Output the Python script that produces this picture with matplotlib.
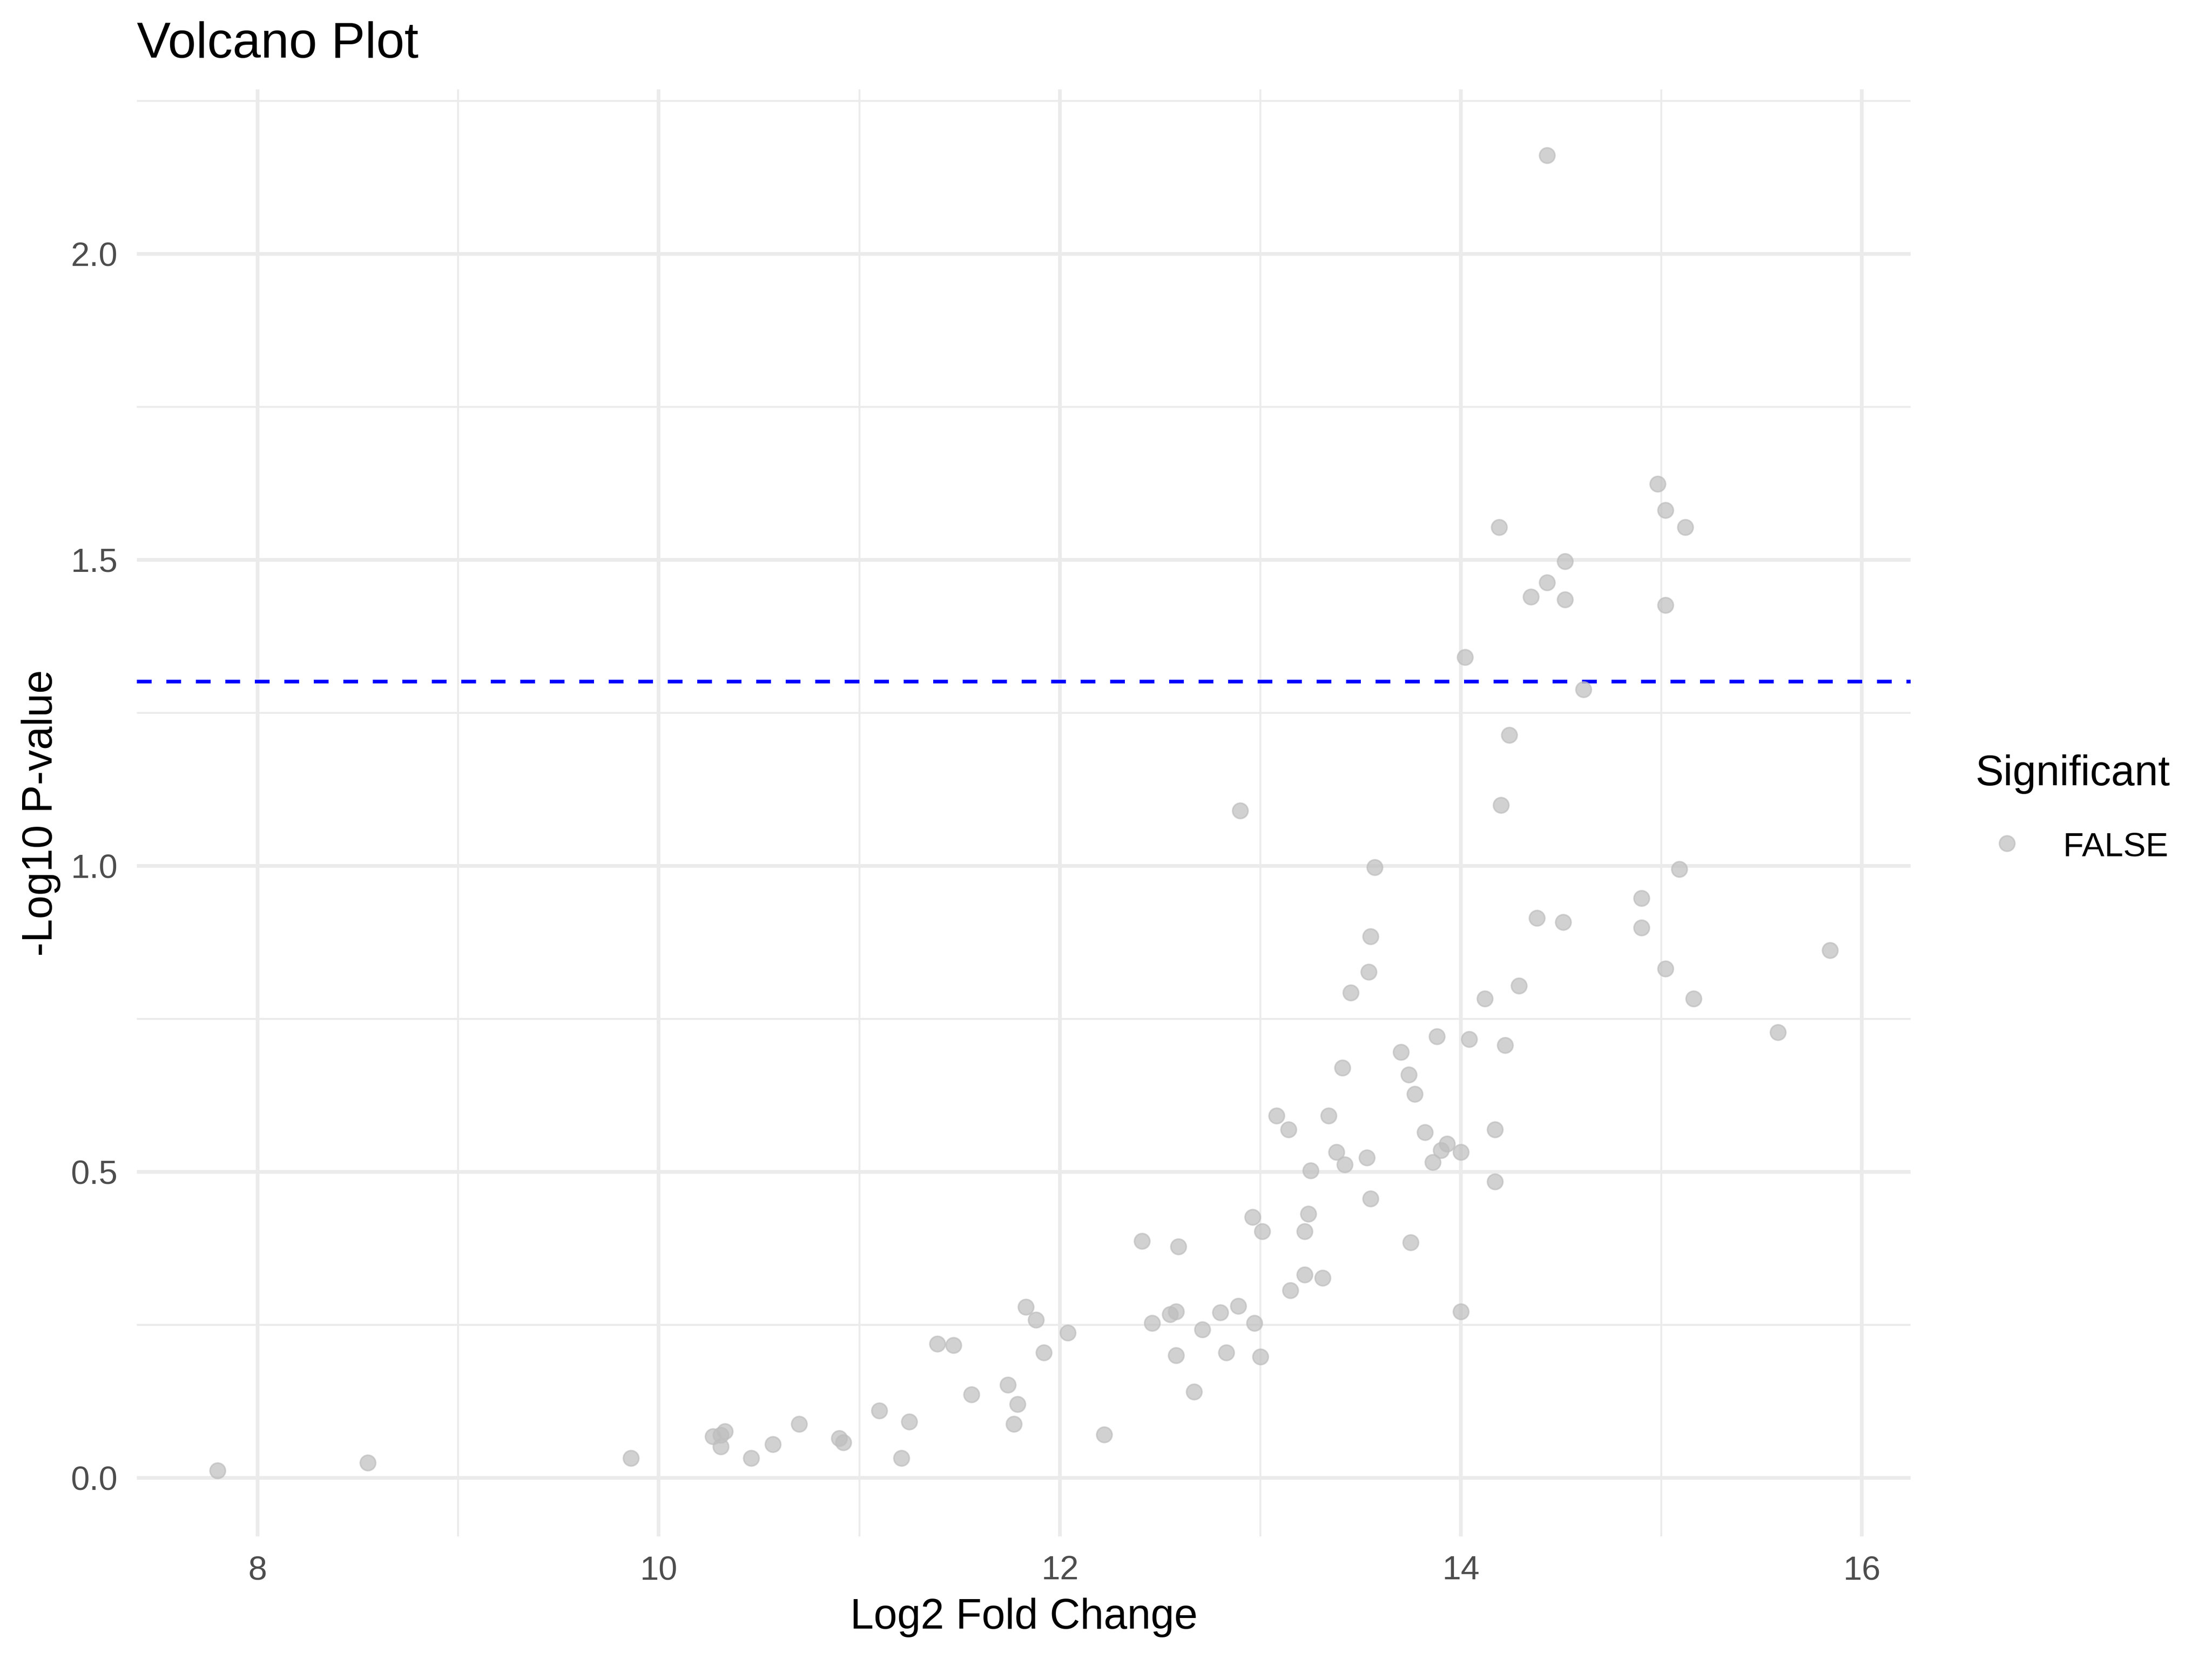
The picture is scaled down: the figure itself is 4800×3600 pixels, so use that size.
import matplotlib
matplotlib.use("Agg")
import matplotlib.pyplot as plt
from matplotlib.lines import Line2D
from matplotlib.ticker import MultipleLocator, FormatStrFormatter

plt.rcParams['font.family'] = ['Liberation Sans', 'DejaVu Sans']

log2fc = [7.80, 8.55, 9.86, 10.27, 10.31, 10.33, 10.31, 10.46, 10.57, 10.70,
          10.90, 10.92, 11.10, 11.21, 11.25, 11.39, 11.47, 11.56, 11.74, 11.77,
          11.79, 11.83, 11.88, 11.92, 12.04, 12.22, 12.41, 12.46, 12.55, 12.58,
          12.59, 12.58, 12.67, 12.71, 12.80, 12.83, 12.89, 12.90, 12.96, 12.97,
          13.00, 13.01, 13.08, 13.14, 13.15, 13.22, 13.22, 13.24, 13.25, 13.31,
          13.34, 13.38, 13.41, 13.42, 13.45, 13.53, 13.54, 13.55, 13.55, 13.57,
          13.70, 13.74, 13.75, 13.77, 13.82, 13.86, 13.88, 13.90, 13.93, 14.00,
          14.00, 14.02, 14.04, 14.12, 14.17, 14.17, 14.19, 14.20, 14.22, 14.24,
          14.29, 14.35, 14.38, 14.43, 14.43, 14.52, 14.52, 14.51, 14.61, 14.90,
          14.90, 14.98, 15.02, 15.02, 15.02, 15.09, 15.12, 15.16, 15.58, 15.84]

neglog10p = [0.012, 0.025, 0.032, 0.068, 0.070, 0.076, 0.051, 0.032, 0.055, 0.088,
             0.065, 0.058, 0.110, 0.032, 0.092, 0.219, 0.217, 0.136, 0.152, 0.088,
             0.120, 0.279, 0.258, 0.205, 0.237, 0.071, 0.387, 0.253, 0.267, 0.272,
             0.378, 0.200, 0.141, 0.242, 0.270, 0.205, 0.281, 1.090, 0.426, 0.253,
             0.198, 0.403, 0.592, 0.569, 0.306, 0.403, 0.332, 0.431, 0.502, 0.327,
             0.592, 0.532, 0.670, 0.512, 0.793, 0.523, 0.827, 0.885, 0.456, 0.998,
             0.696, 0.659, 0.385, 0.627, 0.565, 0.516, 0.721, 0.535, 0.546, 0.532,
             0.272, 1.341, 0.717, 0.783, 0.569, 0.484, 1.553, 1.099, 0.707, 1.214,
             0.804, 1.440, 0.915, 1.463, 2.161, 1.498, 1.435, 0.908, 1.288, 0.947,
             0.899, 1.624, 1.426, 0.832, 1.581, 0.995, 1.553, 0.783, 0.728, 0.862]

threshold = [1.30103]  # -log10(0.05)
legend_title = "Significant"
legend_labels = ["FALSE"]

fig = plt.figure(figsize=(16, 12), dpi=300)
left, right, bottom, top = 0.0619, 0.8637, 0.074, 0.946
ax = fig.add_axes([left, bottom, right - left, top - bottom])

pt_color = "#BEBEBE"
ax.scatter(log2fc, neglog10p, s=8.0**2, color=pt_color, alpha=0.7,
           edgecolors=pt_color, linewidths=0.8, zorder=3)

for t in threshold:
    ax.axhline(t, color="blue", linewidth=1.92, linestyle=(0, (4, 4)), zorder=2)

xmin, xmax = min(log2fc), max(log2fc)
ymin, ymax = min(neglog10p), max(neglog10p)
dx = 0.05 * (xmax - xmin)
dy = 0.05 * (ymax - ymin)
ax.set_xlim(xmin - dx, xmax + dx)
ax.set_ylim(ymin - dy, ymax + dy)

ax.xaxis.set_major_locator(MultipleLocator(2))
ax.xaxis.set_minor_locator(MultipleLocator(1))
ax.yaxis.set_major_locator(MultipleLocator(0.5))
ax.yaxis.set_minor_locator(MultipleLocator(0.25))
ax.yaxis.set_major_formatter(FormatStrFormatter('%.1f'))
ax.xaxis.set_major_formatter(FormatStrFormatter('%d'))

ax.grid(which='major', color='#EBEBEB', linewidth=1.9, zorder=0)
ax.grid(which='minor', color='#EBEBEB', linewidth=1.0, zorder=0)
ax.set_axisbelow(True)
for s in ax.spines.values():
    s.set_visible(False)
ax.tick_params(which='both', length=0)
ax.tick_params(which='major', labelsize=17.6, labelcolor='#4D4D4D', pad=10)

ax.set_xlabel("Log2 Fold Change", fontsize=22, color='black', labelpad=6)
ax.set_ylabel("-Log10 P-value", fontsize=22, color='black', va='baseline')
ax.yaxis.set_label_coords(-0.0478, 0.5)

fig.text(left, 0.9653, "Volcano Plot", fontsize=26.4, ha='left', va='baseline', color='black')

# legend
fig.text(0.8931, 0.5267, legend_title, fontsize=22, ha='left', va='baseline', color='black')
for i, lab in enumerate(legend_labels):
    yk = 0.4917 - i * 0.05
    fig.add_artist(Line2D([0.9073], [yk], marker='o', markersize=8.0, color=pt_color,
                          alpha=0.7, markeredgewidth=0.8, linestyle='none',
                          transform=fig.transFigure))
    fig.text(0.9327, yk - 0.0078, lab, fontsize=17.6, ha='left', va='baseline', color='black')

fig.savefig("out.png", dpi=300, facecolor='white')
